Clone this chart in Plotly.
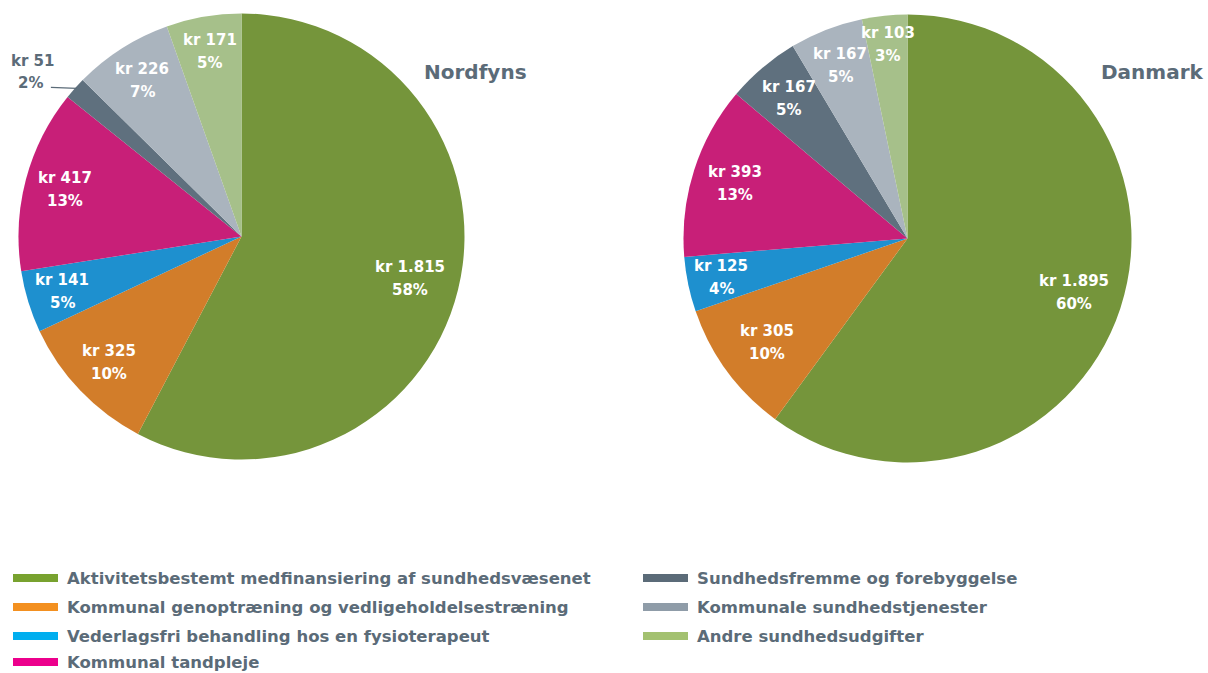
import math
import plotly.graph_objects as go

# ---------------- data ----------------
categories = [
    "Aktivitetsbestemt medfinansiering af sundhedsvæsenet",
    "Kommunal genoptræning og vedligeholdelsestræning",
    "Vederlagsfri behandling hos en fysioterapeut",
    "Kommunal tandpleje",
    "Sundhedsfremme og forebyggelse",
    "Kommunale sundhedstjenester",
    "Andre sundhedsudgifter",
]
nordfyns_values = [1815, 325, 141, 417, 51, 226, 171]
nordfyns_pct = [58, 10, 5, 13, 2, 7, 5]
danmark_values = [1895, 305, 125, 393, 167, 167, 103]
danmark_pct = [60, 10, 4, 13, 5, 5, 3]
titles = ["Nordfyns", "Danmark"]

# ---------------- style ----------------
W, H = 1208, 673
pie_colors = ["#75953b", "#d27d2a", "#1e90cf", "#c81f78", "#5f707e", "#aab4be", "#a6c08a"]
legend_colors = ["#78a22f", "#f39020", "#00aeef", "#ec008c", "#5b6b78", "#8f9ca8", "#a3c170"]
text_color = "#5b6b78"
FONT = "DejaVu Sans"

# pie geometry (pixels): center x, center y, radius
pies = [
    dict(cx=241.5, cy=236.5, R=223, title_xy=(475, 72)),
    dict(cx=907.5, cy=238.5, R=224, title_xy=(1152, 72)),
]
# label radius as fraction of R, per slice
label_r = [
    [0.78, 0.82, 0.84, 0.82, None, 0.83, 0.84],
    [0.78, 0.78, 0.85, 0.81, 0.82, 0.83, 0.87],
]
line_gap = 23  # px between the two label lines


def px(x):
    return x / W


def py(y):
    return 1 - y / H


def kr(v):
    return "kr " + f"{v:,}".replace(",", ".")


def ann(x, y, text, size, color, xanchor="center"):
    return dict(x=px(x), y=py(y), xref="paper", yref="paper", text=text,
                showarrow=False, xanchor=xanchor, yanchor="middle",
                font=dict(family=FONT, size=size, color=color, weight="bold"))


fig = go.Figure()
annotations = []
shapes = []

for i, (vals, pcts) in enumerate([(nordfyns_values, nordfyns_pct), (danmark_values, danmark_pct)]):
    p = pies[i]
    cx, cy, R = p["cx"], p["cy"], p["R"]
    fig.add_trace(go.Pie(
        labels=categories,
        values=vals,
        sort=False,
        direction="clockwise",
        rotation=0,
        marker=dict(colors=pie_colors, line=dict(width=0)),
        textinfo="none",
        hoverinfo="skip",
        showlegend=False,
        domain=dict(x=[px(cx - R), px(cx + R)], y=[py(cy + R), py(cy - R)]),
    ))
    total = sum(vals)
    cum = 0
    for j, v in enumerate(vals):
        mid = (cum + v / 2) / total * 2 * math.pi
        cum += v
        rf = label_r[i][j]
        if rf is None:
            # outside label with a leader line
            ex = cx + R * math.sin(mid)
            ey = cy - R * math.cos(mid)
            lx = ex - 24
            shapes.append(dict(type="line", xref="paper", yref="paper",
                               x0=px(ex + 2), y0=py(ey), x1=px(lx), y1=py(ey - 1),
                               line=dict(color=text_color, width=1.2)))
            annotations.append(ann(lx - 18, ey - 27, kr(v), 15, text_color))
            annotations.append(ann(lx - 20, ey - 5, f"{pcts[j]}%", 15, text_color))
            continue
        lx = cx + rf * R * math.sin(mid)
        ly = cy - rf * R * math.cos(mid)
        for k, t in enumerate([kr(v), f"{pcts[j]}%"]):
            annotations.append(ann(lx, ly + (k - 0.5) * line_gap, t, 15, "white"))
    tx, ty = p["title_xy"]
    annotations.append(ann(tx, ty, titles[i], 20, text_color))

# ---------------- legend (drawn manually) ----------------
legend_cols = [(13, 65), (643, 695)]
legend_rows = [578, 607, 636, 662]
for j, name in enumerate(categories):
    col = 0 if j < 4 else 1
    row = j if j < 4 else j - 4
    bx, tx = legend_cols[col]
    y = legend_rows[row]
    shapes.append(dict(type="rect", xref="paper", yref="paper",
                       x0=px(bx), x1=px(bx + 45), y0=py(y + 4), y1=py(y - 4),
                       fillcolor=legend_colors[j], line=dict(width=0)))
    annotations.append(ann(tx, y, name, 16.5, text_color, xanchor="left"))

fig.update_layout(
    width=W, height=H,
    margin=dict(l=0, r=0, t=0, b=0),
    paper_bgcolor="white",
    plot_bgcolor="white",
    annotations=annotations,
    shapes=shapes,
    showlegend=False,
)

fig.write_html("out.html", config={"displayModeBar": False})
